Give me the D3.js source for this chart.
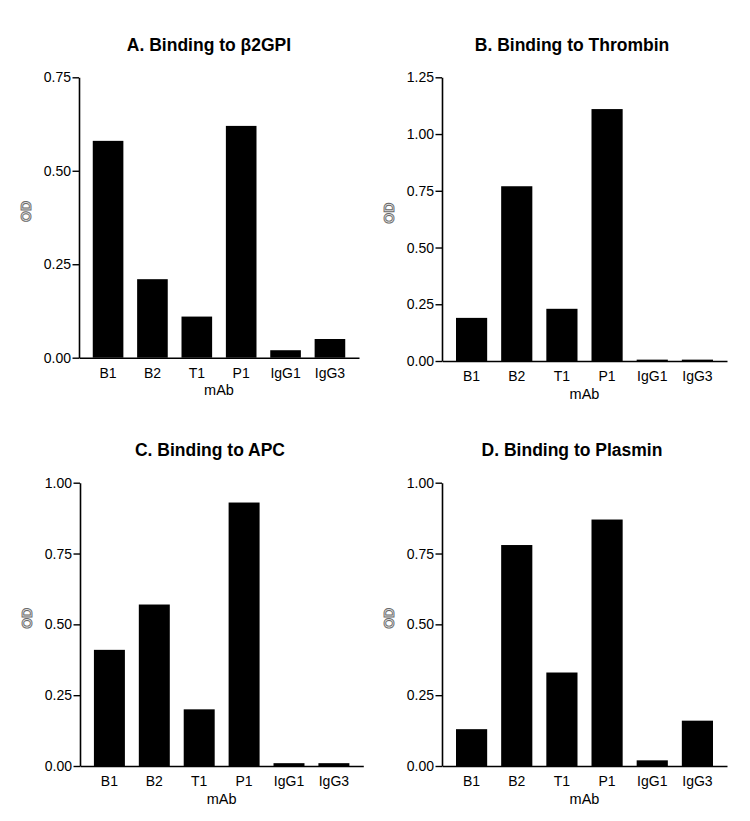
<!DOCTYPE html>
<html>
<head>
<meta charset="utf-8">
<script src="https://cdn.jsdelivr.net/npm/d3@7"></script>
<style>
  html, body { margin: 0; padding: 0; background: #fff; }
  svg { display: block; font-family: "Liberation Sans", Arial, Helvetica, sans-serif; }
</style>
</head>
<body>
<svg id="chart" width="750" height="821"></svg>
<script>
const categories = ["B1", "B2", "T1", "P1", "IgG1", "IgG3"];
const valuesA = [0.58, 0.21, 0.11, 0.62, 0.02, 0.05];
const valuesB = [0.19, 0.77, 0.23, 1.11, 0.006, 0.006];
const valuesC = [0.41, 0.57, 0.20, 0.93, 0.01, 0.01];
const valuesD = [0.13, 0.78, 0.33, 0.87, 0.02, 0.16];
const ticksA = [0, 0.25, 0.5, 0.75];
const ticksB = [0, 0.25, 0.5, 0.75, 1.0, 1.25];
const ticksC = [0, 0.25, 0.5, 0.75, 1.0];
const ticksD = [0, 0.25, 0.5, 0.75, 1.0];
const titles = ["A. Binding to \u03b22GPI", "B. Binding to Thrombin", "C. Binding to APC", "D. Binding to Plasmin"];
const xTitle = "mAb";
const yTitle = "OD";

const panels = [
  { title: titles[0], values: valuesA, ticks: ticksA, box: { l: 79,  r: 359,   t: 77.3,  b: 357.7 } },
  { title: titles[1], values: valuesB, ticks: ticksB, box: { l: 442, r: 727,   t: 77.3,  b: 361 } },
  { title: titles[2], values: valuesC, ticks: ticksC, box: { l: 80,  r: 363.3, t: 482.7, b: 766 } },
  { title: titles[3], values: valuesD, ticks: ticksD, box: { l: 442, r: 727,   t: 482.7, b: 766 } }
];

const svg = d3.select("#chart");

panels.forEach(p => {
  const { l, r, t, b } = p.box;
  const x = d3.scaleBand().domain(categories).range([l, r]).paddingInner(0.31).paddingOuter(0.31);
  const y = d3.scaleLinear().domain([0, d3.max(p.ticks)]).range([b, t]);
  const g = svg.append("g");

  // bars
  g.selectAll("rect.bar")
    .data(categories.map((c, i) => ({ c, v: p.values[i] })))
    .enter().append("rect")
    .attr("class", "bar")
    .attr("x", d => x(d.c))
    .attr("width", x.bandwidth())
    .attr("y", d => y(d.v))
    .attr("height", d => y(0) - y(d.v))
    .attr("fill", "#000");

  // y axis
  const yAxis = d3.axisLeft(y).tickValues(p.ticks).tickFormat(d3.format(".2f")).tickSizeOuter(0).tickSizeInner(6.5).tickPadding(1.5);
  const ya = g.append("g").attr("transform", `translate(${l},0)`).call(yAxis);
  ya.select(".domain").attr("stroke", "#000").attr("stroke-width", 1.6);
  ya.selectAll(".tick line").attr("stroke", "#000").attr("stroke-width", 1.4);
  ya.selectAll(".tick text").attr("font-size", 14).attr("fill", "#000")
    .attr("font-family", "'Liberation Sans', Arial, sans-serif");

  // x axis
  const xAxis = d3.axisBottom(x).tickSize(0).tickPadding(10.5);
  const xa = g.append("g").attr("transform", `translate(0,${b})`).call(xAxis);
  xa.select(".domain").attr("stroke", "#000").attr("stroke-width", 1.6);
  xa.selectAll(".tick text").attr("font-size", 14).attr("fill", "#000")
    .attr("font-family", "'Liberation Sans', Arial, sans-serif");

  // x title
  g.append("text")
    .attr("x", (l + r) / 2)
    .attr("y", b + 37.5)
    .attr("text-anchor", "middle")
    .attr("font-size", 14.5)
    .attr("fill", "#000")
    .text(xTitle);

  // y title (outlined grey look)
  const yc = (t + b) / 2 - 6;
  const xc = l - 53;
  g.append("text")
    .attr("transform", `translate(${xc},${yc}) rotate(-90)`)
    .attr("text-anchor", "middle")
    .attr("dy", "0.35em")
    .attr("font-size", 14)
    .attr("font-weight", "bold")
    .attr("fill", "#e6e6e6")
    .attr("stroke", "#6a6a6a")
    .attr("stroke-width", 0.9)
    .text(yTitle);

  // panel title
  g.append("text")
    .attr("x", l + 130)
    .attr("y", t - 26.5)
    .attr("text-anchor", "middle")
    .attr("font-size", 17.5)
    .attr("font-weight", "bold")
    .attr("fill", "#000")
    .text(p.title);
});
</script>
</body>
</html>
